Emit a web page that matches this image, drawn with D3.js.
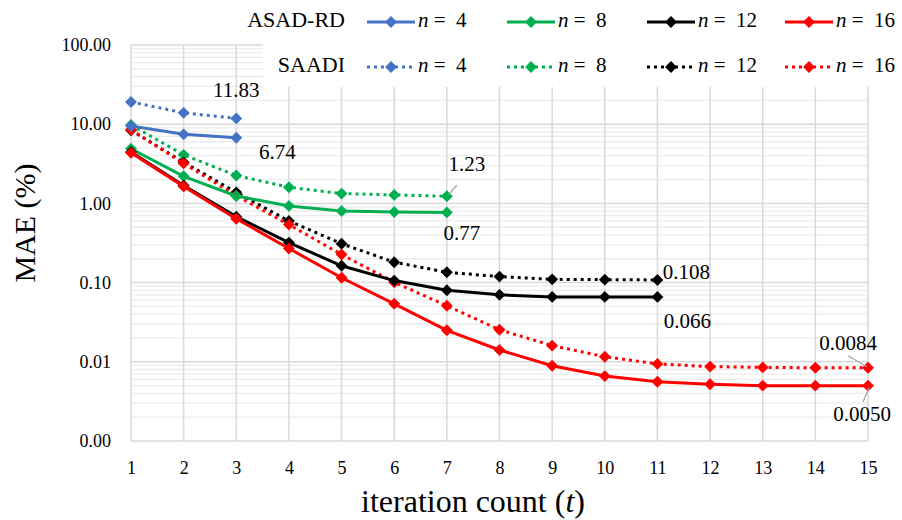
<!DOCTYPE html>
<html>
<head>
<meta charset="utf-8">
<script src="https://cdn.jsdelivr.net/npm/d3@7"></script>
<style>
  body { margin: 0; background: #fff; }
  svg { display: block; font-family: "Liberation Serif", "Times New Roman", serif; }
</style>
</head>
<body>
<svg id="chart" width="902" height="520"></svg>
<script>
// iteration counts and MAE (%) values
const iterations = d3.range(1, 16);
const yTicks = [100, 10, 1, 0.1, 0.01, 0.001];

const asadN4 = [9.5, 7.45, 6.74];
const asadN8 = [4.9, 2.2, 1.24, 0.93, 0.80, 0.78, 0.77];
const asadN12 = [4.45, 1.68, 0.68, 0.32, 0.163, 0.106, 0.080, 0.070, 0.066, 0.066, 0.066];
const asadN16 = [4.35, 1.64, 0.64, 0.27, 0.115, 0.054, 0.025, 0.0141, 0.0089, 0.0066, 0.0056, 0.0052, 0.0050, 0.0050, 0.0050];

const saadiN4 = [19.1, 13.9, 11.83];
const saadiN8 = [9.8, 4.1, 2.25, 1.6, 1.33, 1.28, 1.23];
const saadiN12 = [8.4, 3.3, 1.38, 0.60, 0.31, 0.181, 0.135, 0.119, 0.110, 0.109, 0.108];
const saadiN16 = [8.5, 3.2, 1.25, 0.54, 0.226, 0.101, 0.051, 0.0254, 0.016, 0.0116, 0.0094, 0.0087, 0.0085, 0.0084, 0.0084];

const colors = ["#4472C4", "#00B050", "#000000", "#FF0000"];
const nLabels = ["4", "8", "12", "16"];

const series = [
  { vals: asadN4, c: 0, dotted: false },
  { vals: asadN8, c: 1, dotted: false },
  { vals: asadN12, c: 2, dotted: false },
  { vals: asadN16, c: 3, dotted: false },
  { vals: saadiN4, c: 0, dotted: true },
  { vals: saadiN8, c: 1, dotted: true },
  { vals: saadiN12, c: 2, dotted: true },
  { vals: saadiN16, c: 3, dotted: true },
];

const serif = "Liberation Serif";
const svg = d3.select("#chart");
const x = d3.scaleLinear().domain([1, 15]).range([131, 868]);
const y = d3.scaleLog().domain([0.001, 100]).range([441, 45]);

// minor horizontal gridlines
const minor = [];
[0.001, 0.01, 0.1, 1, 10].forEach(d => { for (let k = 2; k <= 9; k++) minor.push(d * k); });
svg.append("g").selectAll("line").data(minor).join("line")
  .attr("x1", x(1)).attr("x2", x(15))
  .attr("y1", d => y(d)).attr("y2", d => y(d))
  .attr("stroke", "#ececec").attr("stroke-width", 1.3);

svg.append("g").selectAll("line").data(yTicks).join("line")
  .attr("x1", x(1)).attr("x2", x(15))
  .attr("y1", d => y(d)).attr("y2", d => y(d))
  .attr("stroke", "#d9d9d9").attr("stroke-width", 1.5);

svg.append("g").selectAll("line").data(iterations).join("line")
  .attr("x1", d => x(d)).attr("x2", d => x(d))
  .attr("y1", y(100)).attr("y2", y(0.001))
  .attr("stroke", "#d9d9d9").attr("stroke-width", 1.5);

// white legend box hides the grid behind it
svg.append("rect").attr("x", 263).attr("y", 0).attr("width", 639).attr("height", 87).attr("fill", "#fff");

// y axis
const yAxis = svg.append("g")
  .attr("transform", `translate(${x(1) - 20},0)`)
  .call(d3.axisLeft(y).tickValues(yTicks).tickFormat(d3.format(".2f")).tickSize(0).tickPadding(0))
  .attr("font-family", serif).attr("font-size", 18);
yAxis.select(".domain").remove();
yAxis.selectAll("text").attr("fill", "#000");

// x axis
const xAxis = svg.append("g")
  .attr("transform", `translate(0,${y(0.001) + 14})`)
  .call(d3.axisBottom(x).tickValues(iterations).tickFormat(d3.format("d")).tickSize(0).tickPadding(6))
  .attr("font-family", serif).attr("font-size", 18);
xAxis.select(".domain").remove();
xAxis.selectAll("text").attr("fill", "#000");

// axis titles
svg.append("text")
  .attr("transform", "translate(28,223) rotate(-90)")
  .attr("text-anchor", "middle").attr("dominant-baseline", "middle")
  .style("font-size", "30px").text("MAE (%)");

const xt = svg.append("text").attr("x", 473).attr("y", 512)
  .attr("text-anchor", "middle").style("font-size", "32px");
xt.append("tspan").text("iteration count (");
xt.append("tspan").style("font-style", "italic").text("t");
xt.append("tspan").text(")");

const diamond = d3.symbol().type(d3.symbolDiamond2).size(90);
const line = d3.line().x((d, i) => x(i + 1)).y(d => y(d));

// draw dotted first, then solid, same order as the figure's layering
const order = [4, 5, 6, 7, 0, 1, 2, 3];
order.forEach(k => {
  const s = series[k];
  const g = svg.append("g");
  g.append("path").datum(s.vals)
    .attr("d", line).attr("fill", "none")
    .attr("stroke", colors[s.c]).attr("stroke-width", 3)
    .attr("stroke-dasharray", s.dotted ? "3,4" : null);
  g.selectAll("path.m").data(s.vals).join("path").attr("class", "m")
    .attr("transform", (d, i) => `translate(${x(i + 1)},${y(d)})`)
    .attr("d", diamond).attr("fill", colors[s.c]);
});

// data labels
function label(text, lx, ly) {
  svg.append("text").attr("x", lx).attr("y", ly).attr("text-anchor", "middle")
    .style("font-size", "21px").text(text);
}
function leader(x1, y1, x2, y2) {
  svg.append("line").attr("x1", x1).attr("y1", y1).attr("x2", x2).attr("y2", y2)
    .attr("stroke", "#a6a6a6").attr("stroke-width", 1.3);
}
label("11.83", x(3) + 0, y(11.83) - 21);
label("6.74", x(3) + 41, y(6.74) + 21);
label("1.23", x(7) + 20, y(1.23) - 25);
leader(x(7) + 10, y(1.23) - 11, x(7) + 2, y(1.23) - 2);
label("0.77", x(7) + 15, y(0.77) + 28);
label("0.108", x(11) + 29, y(0.108) - 1);
label("0.066", x(11) + 30, y(0.066) + 31);
label("0.0084", x(15) - 20, y(0.0084) - 18);
leader(x(15) - 20, y(0.0084) - 12, x(15) - 1, y(0.0084) - 1);
label("0.0050", x(15) - 6, y(0.0050) + 35);
leader(x(15) + 1, y(0.0050) + 2, x(15) - 5, y(0.0050) + 16);

// legend
const legendX = [367, 507, 647, 785];
const rowY = [22, 67];
const rowNames = ["ASAD-RD", "SAADI"];
rowNames.forEach((nm, r) => {
  svg.append("text").attr("x", 345).attr("y", rowY[r]).attr("text-anchor", "end")
    .attr("dominant-baseline", "middle").style("font-size", "22px").text(nm);
  legendX.forEach((lx, c) => {
    svg.append("line").attr("x1", lx).attr("x2", lx + 48)
      .attr("y1", rowY[r]).attr("y2", rowY[r])
      .attr("stroke", colors[c]).attr("stroke-width", 3)
      .attr("stroke-dasharray", r === 1 ? "3,4" : null);
    svg.append("path").attr("transform", `translate(${lx + 24},${rowY[r]})`)
      .attr("d", diamond).attr("fill", colors[c]);
    const t = svg.append("text").attr("x", lx + 51).attr("y", rowY[r])
      .attr("dominant-baseline", "middle").style("font-size", "21px");
    t.append("tspan").style("font-style", "italic").text("n");
    t.append("tspan").attr("xml:space", "preserve").text(" =  " + nLabels[c]);
  });
});
</script>
</body>
</html>
